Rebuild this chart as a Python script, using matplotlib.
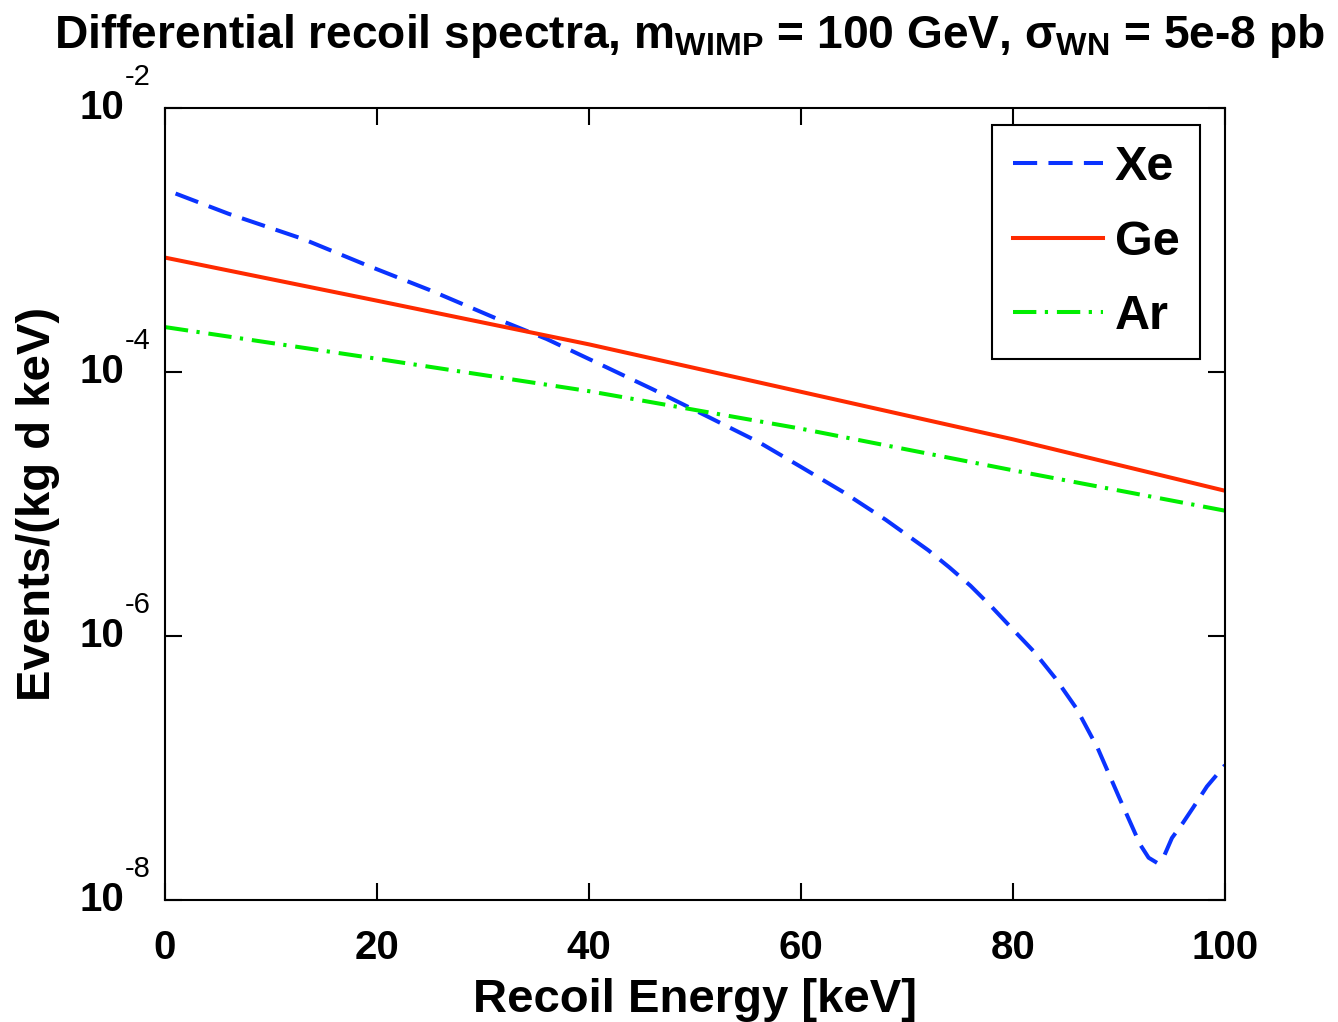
import matplotlib
matplotlib.use("Agg")
import matplotlib.pyplot as plt
from matplotlib.ticker import FixedLocator, NullFormatter, NullLocator

# Recoil energy [keV] and differential rates [events/(kg d keV)]
xe_energy = [1, 6, 13, 19, 25, 32, 36, 41, 46, 51, 56, 60, 64, 68, 72, 74, 76, 78,
             80, 82, 84, 86, 88, 90, 91, 92, 92.8, 93.6, 94.3, 95, 96, 97, 98.3, 100]
xe_rate = [2.25e-3, 1.58e-3, 1.02e-3, 6.46e-4, 4.17e-4, 2.40e-4, 1.78e-4, 1.15e-4,
           7.41e-5, 4.68e-5, 2.95e-5, 1.91e-5, 1.23e-5, 7.59e-6, 4.47e-6, 3.31e-6,
           2.40e-6, 1.66e-6, 1.12e-6, 7.59e-7, 4.79e-7, 2.82e-7, 1.41e-7, 6.03e-8,
           3.98e-8, 2.63e-8, 2.09e-8, 1.91e-8, 2.19e-8, 2.95e-8, 3.80e-8, 5.01e-8,
           7.24e-8, 1.05e-7]

ge_energy = [0, 20, 40, 60, 80, 100]
ge_rate = [7.36e-4, 3.47e-4, 1.62e-4, 7.08e-5, 3.09e-5, 1.26e-5]

ar_energy = [0, 20, 40, 60, 80, 100]
ar_rate = [2.19e-4, 1.26e-4, 7.16e-5, 3.72e-5, 1.80e-5, 8.9e-6]

x_ticks = [0, 20, 40, 60, 80, 100]
y_ticks = [1e-8, 1e-6, 1e-4, 1e-2]
y_exponents = ["-8", "-6", "-4", "-2"]

plt.rcParams["font.family"] = ["Liberation Sans", "DejaVu Sans"]
plt.rcParams["font.weight"] = "bold"
plt.rcParams["mathtext.fontset"] = "custom"
plt.rcParams["mathtext.rm"] = "Liberation Sans"
plt.rcParams["mathtext.it"] = "Liberation Sans"
plt.rcParams["mathtext.bf"] = "Liberation Sans:bold"

fig = plt.figure(figsize=(13.38, 10.22), dpi=100)
ax = fig.add_axes([0.1233, 0.1194, 0.7922, 0.7749])

lw = 2.9
ax.plot(xe_energy, xe_rate, color="#0a33ff", lw=lw, dashes=(6, 2.8), label="Xe")
ax.plot(ge_energy, ge_rate, color="#ff2a00", lw=lw, label="Ge")
ax.plot(ar_energy, ar_rate, color="#00ee00", lw=lw, dashes=(5.8, 2.1, 0.8, 2.2), label="Ar")

ax.set_yscale("log")
ax.set_xlim(0, 100)
ax.set_ylim(1e-8, 1e-2)
ax.xaxis.set_major_locator(FixedLocator(x_ticks))
ax.yaxis.set_major_locator(FixedLocator(y_ticks))
ax.yaxis.set_major_formatter(NullFormatter())
ax.yaxis.set_minor_locator(NullLocator())
ax.yaxis.set_minor_formatter(NullFormatter())
ax.tick_params(which="both", direction="in", top=True, right=True,
               length=12, width=1.5)
ax.tick_params(axis="x", labelsize=29, pad=21)
for lab in ax.get_xticklabels():
    lab.set_fontweight("bold")
for s in ax.spines.values():
    s.set_linewidth(1.5)

# MATLAB-style power-of-ten labels: bold "10", small raised exponent
ytrans = ax.get_yaxis_transform()
for yv, ex in zip(y_ticks, y_exponents):
    ax.annotate("10", xy=(0, yv), xycoords=ytrans, xytext=(-29, 0),
                textcoords="offset points", ha="right", va="center",
                fontsize=29, fontweight="bold")
    ax.annotate(ex, xy=(0, yv), xycoords=ytrans, xytext=(-29, 12),
                textcoords="offset points", ha="left", va="bottom",
                fontsize=21, fontweight="normal")

ax.set_xlabel("Recoil Energy [keV]", fontsize=34, fontweight="bold")
ax.xaxis.set_label_coords(0.5, -0.098)
ax.xaxis.label.set_va("top")
ax.set_ylabel("Events/(kg d keV)", fontsize=34, fontweight="bold")
ax.yaxis.set_label_coords(-0.099, 0.5)

ax.text(0.4953, 1.0758,
        r"Differential recoil spectra, m$_{\rm WIMP}$ = 100 GeV, $\sigma_{\rm WN}$ = 5e-8 pb",
        transform=ax.transAxes, ha="center", va="baseline",
        fontsize=33.2, fontweight="bold")

leg = ax.legend(loc="upper right", bbox_to_anchor=(0.8969, 0.8777),
                bbox_transform=fig.transFigure, borderaxespad=0,
                fontsize=35, handlelength=1.85, handletextpad=0.25,
                borderpad=0.42, labelspacing=0.6,
                fancybox=False, edgecolor="black", framealpha=1)
leg.get_frame().set_linewidth(1.5)
for t in leg.get_texts():
    t.set_fontweight("bold")

fig.savefig("out.png", dpi=100)
